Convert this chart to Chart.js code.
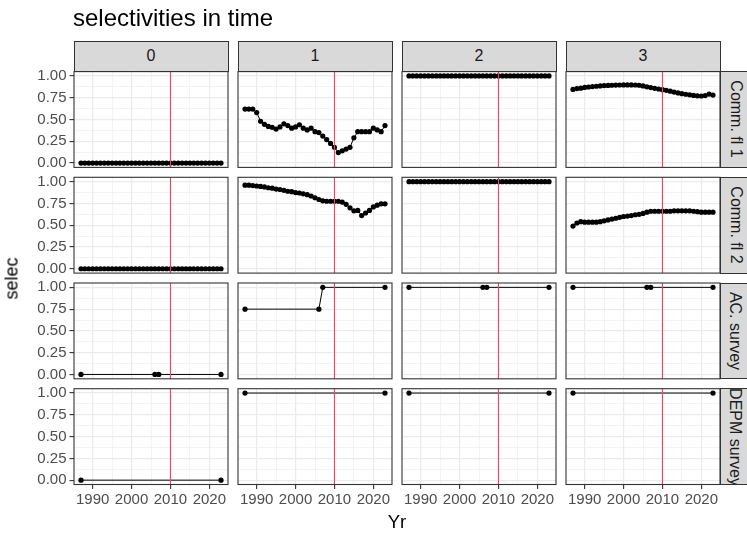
<!DOCTYPE html>
<html><head><meta charset="utf-8">
<script src="https://cdn.jsdelivr.net/npm/chart.js@4.4.1/dist/chart.umd.min.js"></script>
<style>
html,body{margin:0;padding:0;background:#fff;}
#wrap{position:relative;width:747px;height:533px;overflow:hidden;font-family:"Liberation Sans",Arial,sans-serif;background:#fff;}
#wrap canvas{position:absolute;left:0;top:0;}
.strip{position:absolute;background:#D9D9D9;border:1px solid #333;box-sizing:border-box;color:#1A1A1A;font-size:16px;display:flex;align-items:center;justify-content:center;overflow:hidden;white-space:nowrap;}
.rstrip span{display:block;transform:rotate(90deg);white-space:nowrap;}
.lbl{position:absolute;white-space:nowrap;color:#000;font-weight:normal;}
</style></head>
<body><div id="wrap"></div>
<script>
// ---------- data ----------
const years = [1987,1988,1989,1990,1991,1992,1993,1994,1995,1996,1997,1998,1999,2000,2001,2002,2003,2004,2005,2006,2007,2008,2009,2010,2011,2012,2013,2014,2015,2016,2017,2018,2019,2020,2021,2022,2023];
const yearsAC = [1987,2006,2007,2023];
const yearsDEPM = [1987,2023];
const ages = ['0','1','2','3'];
const fleets = ['Comm. fl 1','Comm. fl 2','AC. survey','DEPM survey'];
const refYear = 2010;
const xTickLabels = [1990,2000,2010,2020];
const xMinorTicks = [1995,2005,2015];
const yTickLabels = ['0.00','0.25','0.50','0.75','1.00'];
const yMinorTicks = [0.125,0.375,0.625,0.875];

const commFl1Age0 = [0,0,0,0,0,0,0,0,0,0,0,0,0,0,0,0,0,0,0,0,0,0,0,0,0,0,0,0,0,0,0,0,0,0,0,0,0];
const commFl1Age1 = [0.62,0.62,0.62,0.58,0.48,0.445,0.42,0.41,0.39,0.415,0.45,0.43,0.40,0.415,0.44,0.40,0.38,0.40,0.36,0.35,0.31,0.27,0.225,0.18,0.12,0.14,0.16,0.18,0.29,0.36,0.36,0.36,0.36,0.40,0.38,0.36,0.43];
const commFl1Age2 = [1,1,1,1,1,1,1,1,1,1,1,1,1,1,1,1,1,1,1,1,1,1,1,1,1,1,1,1,1,1,1,1,1,1,1,1,1];
const commFl1Age3 = [0.845,0.855,0.86,0.868,0.873,0.878,0.882,0.886,0.889,0.891,0.893,0.895,0.896,0.897,0.897,0.897,0.896,0.893,0.885,0.875,0.866,0.858,0.85,0.843,0.835,0.825,0.815,0.805,0.797,0.79,0.783,0.777,0.772,0.77,0.775,0.792,0.78];
const commFl2Age0 = [0,0,0,0,0,0,0,0,0,0,0,0,0,0,0,0,0,0,0,0,0,0,0,0,0,0,0,0,0,0,0,0,0,0,0,0,0];
const commFl2Age1 = [0.96,0.96,0.955,0.95,0.945,0.94,0.93,0.925,0.915,0.91,0.90,0.89,0.885,0.875,0.87,0.86,0.85,0.835,0.815,0.795,0.78,0.775,0.775,0.775,0.775,0.765,0.74,0.70,0.665,0.67,0.61,0.64,0.67,0.71,0.73,0.745,0.745];
const commFl2Age2 = [1,1,1,1,1,1,1,1,1,1,1,1,1,1,1,1,1,1,1,1,1,1,1,1,1,1,1,1,1,1,1,1,1,1,1,1,1];
const commFl2Age3 = [0.49,0.525,0.54,0.535,0.535,0.535,0.535,0.54,0.55,0.56,0.57,0.58,0.59,0.60,0.605,0.61,0.62,0.625,0.635,0.65,0.66,0.66,0.66,0.66,0.66,0.66,0.665,0.665,0.665,0.665,0.665,0.66,0.655,0.65,0.65,0.65,0.65];
const acSurveyAge0 = [0,0,0,0];
const acSurveyAge1 = [0.75,0.75,1,1];
const acSurveyAge2 = [1,1,1,1];
const acSurveyAge3 = [1,1,1,1];
const depmSurveyAge0 = [0,0];
const depmSurveyAge1 = [1,1];
const depmSurveyAge2 = [1,1];
const depmSurveyAge3 = [1,1];

const panelX = [years, years, yearsAC, yearsDEPM];
const panelY = [
  [commFl1Age0, commFl1Age1, commFl1Age2, commFl1Age3],
  [commFl2Age0, commFl2Age1, commFl2Age2, commFl2Age3],
  [acSurveyAge0, acSurveyAge1, acSurveyAge2, acSurveyAge3],
  [depmSurveyAge0, depmSurveyAge1, depmSurveyAge2, depmSurveyAge3]
];

// ---------- layout ----------
const W = 747, H = 533;
const colLeft = [74, 238, 402, 566];
const panelW = 154;
const rowTop = [71.6, 177.3, 283.0, 388.7];
const panelH = 95.8;
const yAxisW = 74, xAxisH = 30;
const xMin = 1985.2, xMax = 2024.8, yMin = -0.05, yMax = 1.05;
const tickFont = {family: '"Liberation Sans", Arial, sans-serif', size: 15};

const wrap = document.getElementById('wrap');

const isMajorX = v => xTickLabels.includes(v);
const isMajorY = v => yTickLabels.map(Number).some(t => Math.abs(t - v) < 1e-9);

const panelPlugin = {
  id: 'panelDeco',
  afterDatasetsDraw(chart) {
    const {ctx, chartArea: a, scales: {x}} = chart;
    const px = x.getPixelForValue(refYear);
    ctx.save();
    ctx.strokeStyle = '#F0436A';
    ctx.lineWidth = 1.1;
    ctx.beginPath();
    ctx.moveTo(px, a.top);
    ctx.lineTo(px, a.bottom);
    ctx.stroke();
    ctx.restore();
  },
  afterDraw(chart) {
    const {ctx, chartArea: a} = chart;
    ctx.save();
    ctx.strokeStyle = '#333333';
    ctx.lineWidth = 1.1;
    ctx.strokeRect(a.left, a.top, a.right - a.left, a.bottom - a.top);
    ctx.restore();
  }
};

function makePanel(r, c) {
  const cv = document.createElement('canvas');
  cv.width = W; cv.height = H;
  cv.style.width = W + 'px'; cv.style.height = H + 'px';
  wrap.appendChild(cv);
  const left = colLeft[c], top = rowTop[r];
  const right = left + panelW, bottom = top + panelH;
  const showY = c === 0, showX = r === 3;
  const xs = panelX[r], ys = panelY[r][c];
  new Chart(cv, {
    type: 'line',
    data: {
      datasets: [{
        data: xs.map((x, i) => ({x: x, y: ys[i]})),
        borderColor: '#000000',
        borderWidth: 1,
        pointRadius: 2.6,
        pointBackgroundColor: '#000000',
        pointBorderWidth: 0,
        tension: 0,
        clip: 6
      }]
    },
    options: {
      responsive: false,
      animation: false,
      events: [],
      devicePixelRatio: 1,
      layout: {padding: {
        left: showY ? left - yAxisW : left,
        right: W - right,
        top: top,
        bottom: showX ? H - bottom - xAxisH : H - bottom
      }},
      plugins: {legend: {display: false}, tooltip: {enabled: false}, title: {display: false}},
      scales: {
        x: {
          type: 'linear', min: xMin, max: xMax,
          afterBuildTicks: s => { s.ticks = xTickLabels.concat(xMinorTicks).sort((a, b) => a - b).map(v => ({value: v})); },
          afterFit: s => { s.height = showX ? xAxisH : 0; s.paddingLeft = 0; s.paddingRight = 0; },
          border: {display: false},
          grid: {
            color: '#EBEBEB',
            lineWidth: ctx => isMajorX(ctx.tick.value) ? 1.2 : 0.6,
            drawTicks: showX,
            tickLength: 4.5,
            tickColor: ctx => isMajorX(ctx.tick.value) ? '#333333' : 'rgba(0,0,0,0)',
            tickWidth: 1.1
          },
          ticks: {
            display: showX, autoSkip: false, maxRotation: 0, minRotation: 0,
            padding: 2, color: '#4D4D4D', font: tickFont,
            callback: v => isMajorX(v) ? String(v) : ''
          }
        },
        y: {
          type: 'linear', min: yMin, max: yMax,
          afterBuildTicks: s => { s.ticks = yTickLabels.map(Number).concat(yMinorTicks).sort((a, b) => a - b).map(v => ({value: v})); },
          afterFit: s => { s.width = showY ? yAxisW : 0; s.paddingTop = 0; s.paddingBottom = 0; },
          border: {display: false},
          grid: {
            color: '#EBEBEB',
            lineWidth: ctx => isMajorY(ctx.tick.value) ? 1.2 : 0.6,
            drawTicks: showY,
            tickLength: 4.5,
            tickColor: ctx => isMajorY(ctx.tick.value) ? '#333333' : 'rgba(0,0,0,0)',
            tickWidth: 1.1
          },
          ticks: {
            display: showY, autoSkip: false,
            padding: 3, color: '#4D4D4D', font: tickFont,
            callback: v => {
              const i = yTickLabels.map(Number).findIndex(t => Math.abs(t - v) < 1e-9);
              return i >= 0 ? yTickLabels[i] : '';
            }
          }
        }
      }
    },
    plugins: [panelPlugin]
  });
}

// strips (below canvases)
ages.forEach((a, c) => {
  const d = document.createElement('div');
  d.className = 'strip';
  d.style.left = (colLeft[c] - 0.5) + 'px';
  d.style.top = '40.7px';
  d.style.width = (panelW + 1) + 'px';
  d.style.height = (rowTop[0] - 40.7 + 0.5) + 'px';
  d.textContent = a;
  wrap.appendChild(d);
});
fleets.forEach((f, r) => {
  const d = document.createElement('div');
  d.className = 'strip rstrip';
  d.style.left = (colLeft[3] + panelW - 0.5) + 'px';
  d.style.top = (rowTop[r] - 0.5) + 'px';
  d.style.width = '31.5px';
  d.style.height = (panelH + 1) + 'px';
  const s = document.createElement('span');
  s.textContent = f;
  d.appendChild(s);
  wrap.appendChild(d);
});

for (let r = 0; r < 4; r++) for (let c = 0; c < 4; c++) makePanel(r, c);

// titles
function addLabel(text, css) {
  const d = document.createElement('div');
  d.className = 'lbl';
  d.textContent = text;
  Object.assign(d.style, css);
  wrap.appendChild(d);
  return d;
}
addLabel('selectivities in time', {left: '73px', top: '5.5px', fontSize: '24px', lineHeight: '24px'});
addLabel('Yr', {left: '0px', top: '513px', width: '794px', textAlign: 'center', fontSize: '18.5px', lineHeight: '18.5px'});
addLabel('selec', {left: '-38px', top: '268.5px', width: '100px', textAlign: 'center', fontSize: '18px', lineHeight: '19px', transform: 'rotate(-90deg)'});
</script></body></html>
